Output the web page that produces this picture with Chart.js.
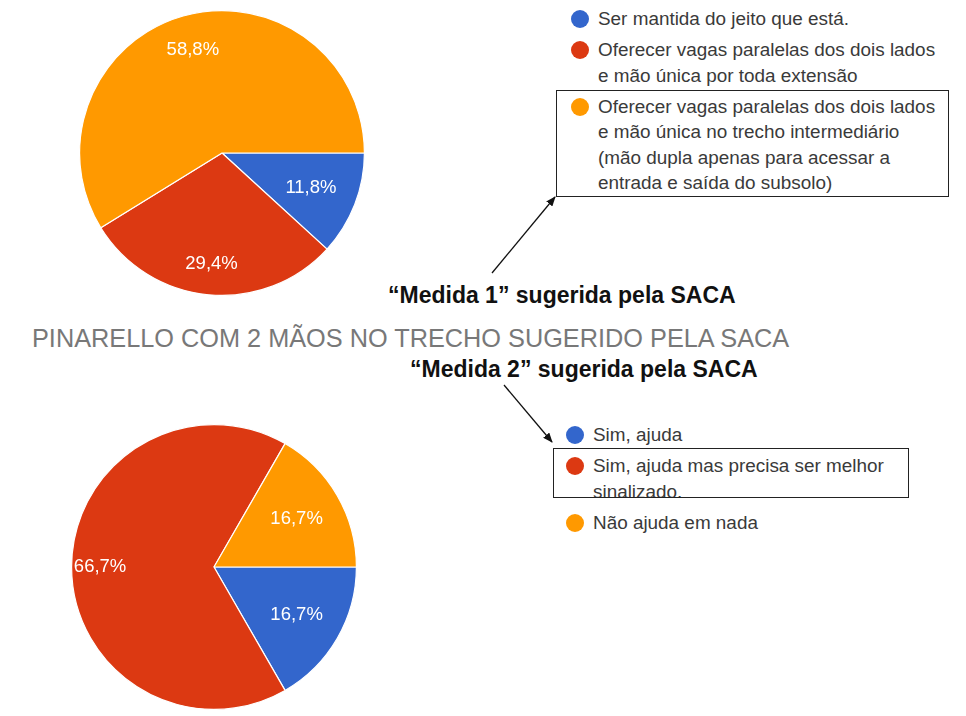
<!DOCTYPE html>
<html>
<head>
<meta charset="utf-8">
<script src="https://cdn.jsdelivr.net/npm/chart.js@4/dist/chart.umd.min.js"></script>
<style>
  html, body { margin:0; padding:0; background:#fff; }
  #stage { position:relative; width:966px; height:716px; overflow:hidden; background:#fff;
           font-family:"Liberation Sans", Arial, sans-serif; }
  .pie { position:absolute; }
  .legend { position:absolute; color:#3a3a3a; font-size:18.9px; line-height:25.5px; }
  .item { position:relative; padding-left:42px; margin-bottom:5.5px; white-space:nowrap; }
  .dot { position:absolute; width:18px; height:18px; border-radius:50%; left:15px; top:4px; }
  .box { position:absolute; border:1.5px solid #222; box-sizing:border-box; }
  .head { position:absolute; font-weight:bold; color:#111; font-size:23px; white-space:nowrap; }
  #title { position:absolute; left:32px; top:324px; color:#787878; font-size:25.3px; white-space:nowrap; }
  svg { position:absolute; left:0; top:0; }
</style>
</head>
<body>
<div id="stage">
  <div class="pie" style="left:79px;top:10px;width:286px;height:286px;"><canvas id="pie1"></canvas></div>
  <div class="pie" style="left:71px;top:424px;width:286px;height:286px;"><canvas id="pie2"></canvas></div>
  <div class="legend" id="legend1" style="left:556px;top:6px;width:392px;"></div>
  <div class="legend" id="legend2" style="left:551px;top:422px;width:355px;"></div>
  <div class="box" style="left:556px;top:90px;width:393px;height:107px;"></div>
  <div class="box" style="left:553px;top:448px;width:356px;height:50px;"></div>
  <div class="head" id="head1" style="left:388px;top:282px;"></div>
  <div id="title"></div>
  <div class="head" id="head2" style="left:410px;top:356px;"></div>
  <svg width="966" height="716">
    <defs>
      <marker id="ah" markerWidth="10" markerHeight="8" refX="9" refY="4" orient="auto" markerUnits="userSpaceOnUse">
        <path d="M0,0 L10,4 L0,8 z" fill="#111"/>
      </marker>
    </defs>
    <line x1="492" y1="273" x2="555" y2="197" stroke="#111" stroke-width="1.3" marker-end="url(#ah)"/>
    <line x1="504" y1="385" x2="552" y2="442" stroke="#111" stroke-width="1.3" marker-end="url(#ah)"/>
  </svg>
</div>
<script>
// ---- data ----
const labels1 = [
  ["Ser mantida do jeito que está."],
  ["Oferecer vagas paralelas dos dois lados", "e mão única por toda extensão"],
  ["Oferecer vagas paralelas dos dois lados", "e mão única no trecho intermediário", "(mão dupla apenas para acessar a", "entrada e saída do subsolo)"]
];
const values1 = [11.8, 29.4, 58.8];
const labels2 = [
  ["Sim, ajuda"],
  ["Sim, ajuda mas precisa ser melhor", "sinalizado."],
  ["Não ajuda em nada"]
];
const values2 = [16.7, 66.7, 16.7];
const heading1 = "“Medida 1” sugerida pela SACA";
const heading2 = "“Medida 2” sugerida pela SACA";
const mainTitle = "PINARELLO COM 2 MÃOS NO TRECHO SUGERIDO PELA SACA";

// ---- style ----
const colors = ["#3366cc", "#dc3912", "#ff9900"];

const sliceLabels = {
  id: "sliceLabels",
  afterDatasetsDraw(chart, args, opts) {
    const ctx = chart.ctx;
    const ds = chart.data.datasets[0];
    chart.getDatasetMeta(0).data.forEach((arc, i) => {
      const p = arc.getProps(["x","y","startAngle","endAngle","outerRadius"], true);
      const mid = (p.startAngle + p.endAngle) / 2;
      const r = p.outerRadius * opts.radii[i];
      ctx.save();
      ctx.fillStyle = "#ffffff";
      ctx.font = "18.5px 'Liberation Sans', Arial, sans-serif";
      ctx.textAlign = "center";
      ctx.textBaseline = "middle";
      ctx.fillText(ds.data[i].toFixed(1).replace(".", ",") + "%", p.x + Math.cos(mid) * r, p.y + Math.sin(mid) * r);
      ctx.restore();
    });
  }
};

function makePie(id, labels, values, radii) {
  return new Chart(document.getElementById(id), {
    type: "pie",
    data: {
      labels: labels,
      datasets: [{ data: values, backgroundColor: colors, borderColor: "#ffffff", borderWidth: 1.2 }]
    },
    options: {
      responsive: true,
      maintainAspectRatio: false,
      animation: false,
      rotation: 90,
      layout: { padding: 0 },
      plugins: { legend: { display: false }, tooltip: { enabled: false }, sliceLabels: { radii: radii } }
    },
    plugins: [sliceLabels]
  });
}
makePie("pie1", labels1, values1, [0.67, 0.78, 0.75]);
makePie("pie2", labels2, values2, [0.67, 0.80, 0.67]);

function makeLegend(el, labels) {
  labels.forEach((lines, i) => {
    const d = document.createElement("div");
    d.className = "item";
    const dot = document.createElement("span");
    dot.className = "dot";
    dot.style.background = colors[i];
    d.appendChild(dot);
    lines.forEach((ln, j) => {
      if (j) d.appendChild(document.createElement("br"));
      d.appendChild(document.createTextNode(ln));
    });
    el.appendChild(d);
  });
}
makeLegend(document.getElementById("legend1"), labels1);
makeLegend(document.getElementById("legend2"), labels2);
document.getElementById("head1").textContent = heading1;
document.getElementById("head2").textContent = heading2;
document.getElementById("title").textContent = mainTitle;
</script>
</body>
</html>
